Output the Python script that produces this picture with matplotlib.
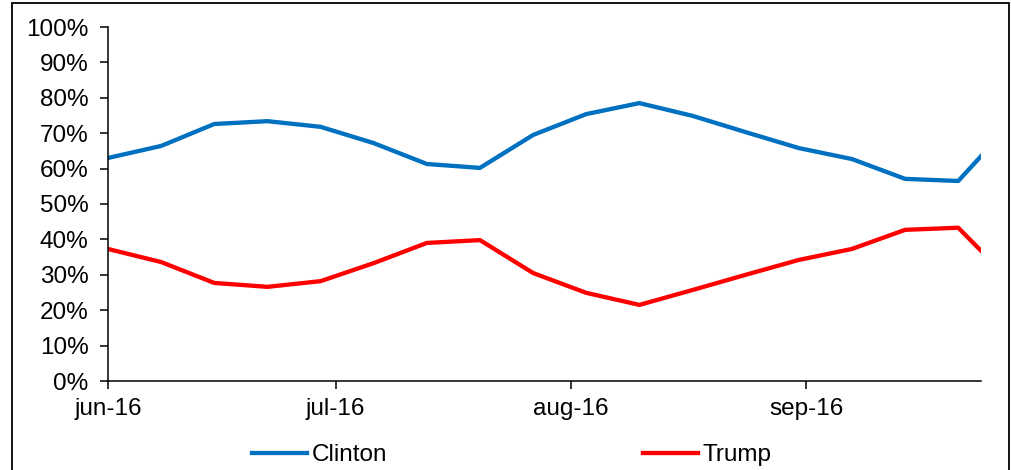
import matplotlib
matplotlib.use("Agg")
import matplotlib.pyplot as plt
from matplotlib.patches import Rectangle
import pandas as pd

plt.rcParams['font.family'] = ['Liberation Sans', 'DejaVu Sans']

# weekly poll shares (%)
dates = ['2016-06-01', '2016-06-08', '2016-06-15', '2016-06-22', '2016-06-29',
         '2016-07-06', '2016-07-13', '2016-07-20', '2016-07-27', '2016-08-03',
         '2016-08-10', '2016-08-17', '2016-08-24', '2016-08-31', '2016-09-07',
         '2016-09-14', '2016-09-21', '2016-09-24']
clinton = [63.0, 66.4, 72.6, 73.4, 71.8, 67.2, 61.3, 60.2, 69.5, 75.4,
           78.5, 74.9, 70.3, 65.8, 62.7, 57.1, 56.5, 63.5]
trump = [37.3, 33.6, 27.7, 26.6, 28.2, 33.3, 39.0, 39.8, 30.5, 24.9,
         21.5, 25.7, 30.0, 34.2, 37.3, 42.7, 43.3, 36.8]

month_ticks = ['2016-06-01', '2016-07-01', '2016-08-01', '2016-09-01']
month_labels = ['jun-16', 'jul-16', 'aug-16', 'sep-16']
y_ticks = [0, 10, 20, 30, 40, 50, 60, 70, 80, 90, 100]

x = pd.to_datetime(dates)
fs = 17.5

fig = plt.figure(figsize=(10.11, 4.70), dpi=100)
ax = fig.add_axes([108/1011, 1-381/470, (981-108)/1011, (381-27)/470])

ax.plot(x, clinton, color='#0070C0', lw=3.1, label='Clinton')
ax.plot(x, trump, color='#FF0000', lw=3.1, label='Trump')

ax.set_xlim(x[0], x[-1])
ax.set_ylim(0, 100)
ax.set_yticks(y_ticks)
ax.set_yticklabels([f'{v}%' for v in y_ticks])
ax.set_xticks(pd.to_datetime(month_ticks))
ax.set_xticklabels(month_labels)

for s in ['top', 'right']:
    ax.spines[s].set_visible(False)
for s in ['left', 'bottom']:
    ax.spines[s].set_linewidth(1.1)
    ax.spines[s].set_color('black')
ax.tick_params(axis='both', direction='out', length=6, width=1.1,
               labelsize=fs, colors='black')
ax.tick_params(axis='y', pad=8)
ax.tick_params(axis='x', pad=6)

fig.legend(loc='center', bbox_to_anchor=(512/1011, 1-455/470), ncol=2,
           frameon=False, fontsize=fs, handlelength=2.26, handletextpad=0.2,
           columnspacing=10.5)

# outer chart border (bottom edge cut off)
fig.add_artist(Rectangle((12/1011, -0.05), (1009-12)/1011, 1.05-3/470,
                         transform=fig.transFigure, fill=False,
                         edgecolor='black', lw=1.3))

fig.savefig('out.png', dpi=100)
